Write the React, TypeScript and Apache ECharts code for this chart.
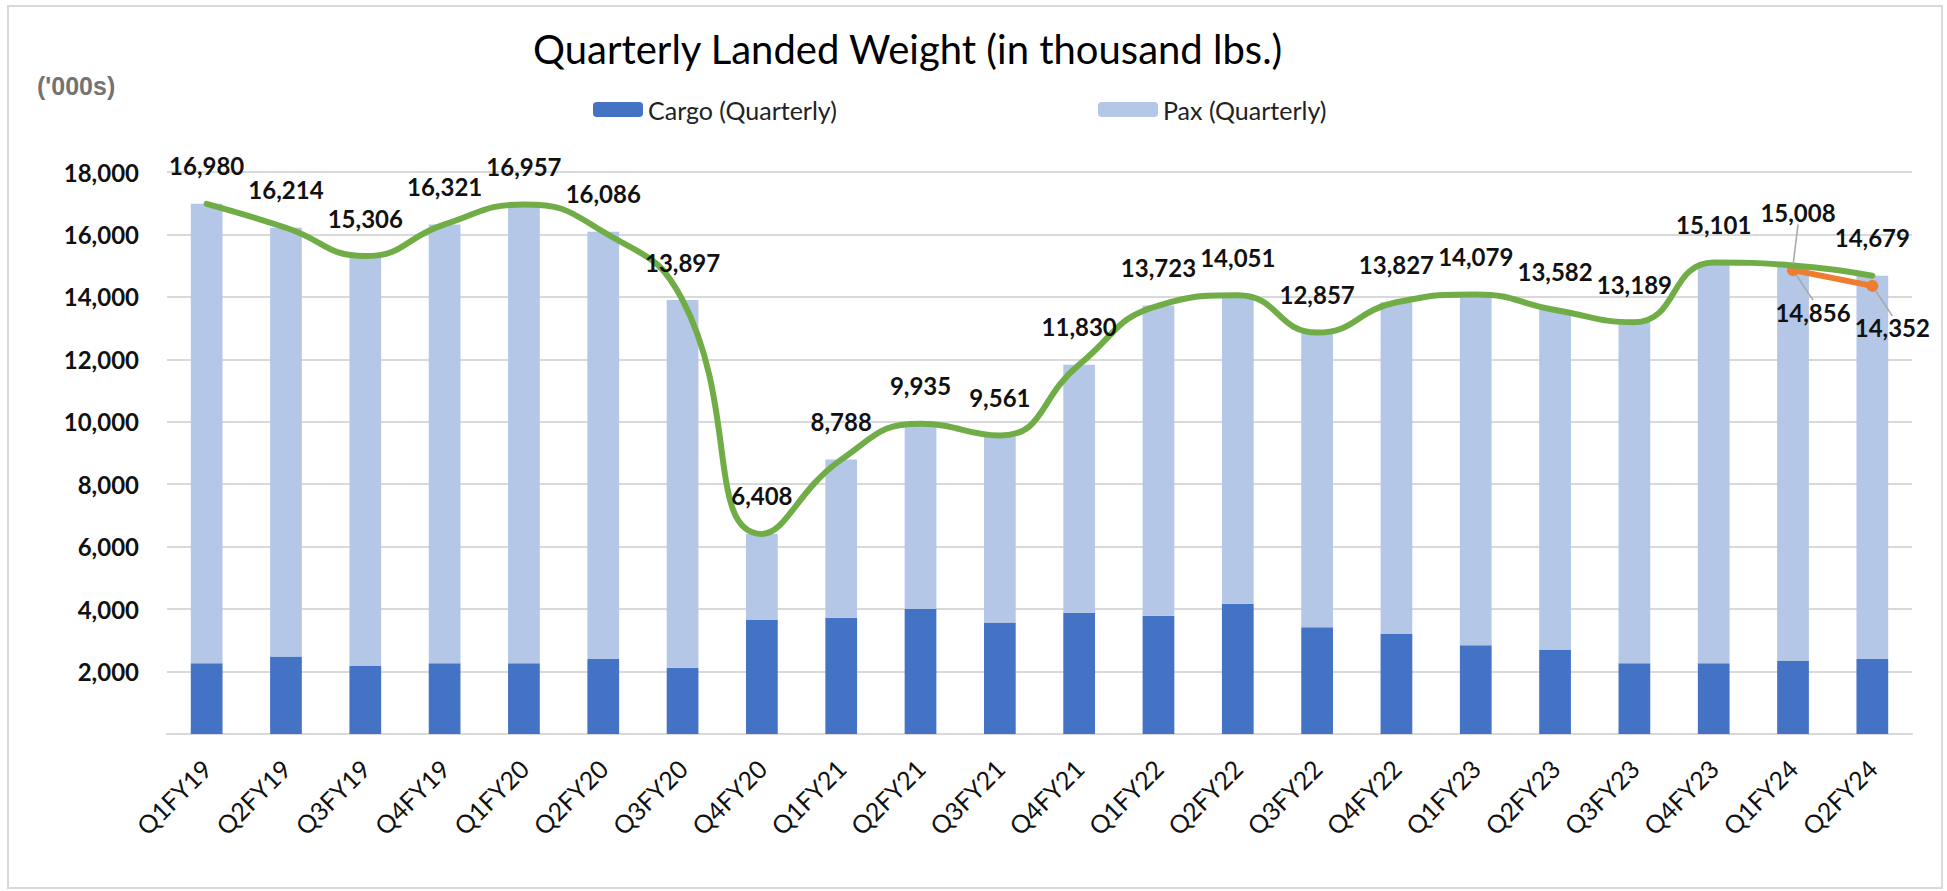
import React, { useEffect, useRef } from "react";
import * as echarts from "echarts";

const categories = [
  "Q1FY19", "Q2FY19", "Q3FY19", "Q4FY19", "Q1FY20", "Q2FY20", "Q3FY20", "Q4FY20",
  "Q1FY21", "Q2FY21", "Q3FY21", "Q4FY21", "Q1FY22", "Q2FY22", "Q3FY22", "Q4FY22",
  "Q1FY23", "Q2FY23", "Q3FY23", "Q4FY23", "Q1FY24", "Q2FY24",
];
const cargo = [
  2270, 2480, 2180, 2270, 2270, 2400, 2120, 3650, 3720, 4010, 3570, 3880, 3790, 4170,
  3420, 3200, 2840, 2690, 2270, 2270, 2340, 2400,
];
const pax = [
  14710, 13734, 13126, 14051, 14687, 13686, 11777, 2758, 5068, 5925, 5991, 7950, 9933,
  9881, 9437, 10627, 11239, 10892, 10919, 12831, 12668, 12279,
];
const totals = [
  16980, 16214, 15306, 16321, 16957, 16086, 13897, 6408, 8788, 9935, 9561, 11830, 13723,
  14051, 12857, 13827, 14079, 13582, 13189, 15101, 15008, 14679,
];
const projected = [
  null, null, null, null, null, null, null, null, null, null, null, null, null, null,
  null, null, null, null, null, null, 14856, 14352,
];
const yTicks = { min: 0, max: 18000, interval: 2000 };

const FONT = "Lato";
const fmt = (v: number) => v.toLocaleString("en-US");

export default function App() {
  const ref = useRef<HTMLDivElement>(null);
  useEffect(() => {
    if (!ref.current) return;
    const chart = echarts.init(ref.current, null, { renderer: "svg" });
    const option: any = {
      animation: false,
      backgroundColor: "#ffffff",
      title: {
        text: "Quarterly Landed Weight (in thousand lbs.)",
        left: 528,
        top: 24,
        textStyle: { fontFamily: FONT, fontSize: 40, fontWeight: "normal", color: "#000" },
      },
      legend: [
        {
          data: ["Cargo (Quarterly)"],
          left: 588,
          top: 92,
          itemWidth: 50,
          itemHeight: 15,
          itemGap: 10,
          textStyle: { fontFamily: FONT, fontSize: 25, color: "#222" },
        },
        {
          data: ["Pax (Quarterly)"],
          left: 1093,
          top: 92,
          itemWidth: 60,
          itemHeight: 15,
          textStyle: { fontFamily: FONT, fontSize: 25, color: "#222" },
        },
      ],
      graphic: [
        {
          type: "rect",
          shape: { x: 8, y: 6, width: 1934, height: 882 },
          style: { fill: "none", stroke: "#d9d9d9", lineWidth: 2 },
          silent: true,
        },
        {
          type: "text",
          x: 37,
          y: 73,
          style: {
            text: "('000s)",
            fontFamily: "Liberation Sans",
            fontWeight: "bold",
            fontSize: 25,
            fill: "#737373",
          },
        },
      ],
      grid: { left: 167, right: 35, top: 172, bottom: 157, containLabel: false },
      xAxis: {
        type: "category",
        data: categories,
        axisTick: { show: false },
        axisLine: { lineStyle: { color: "#d9d9d9", width: 2 } },
        axisLabel: {
          rotate: 45,
          margin: 30,
          fontFamily: FONT,
          fontSize: 25,
          color: "#111",
          interval: 0,
        },
      },
      yAxis: {
        type: "value",
        min: yTicks.min,
        max: yTicks.max,
        interval: yTicks.interval,
        axisLine: { show: false },
        axisTick: { show: false },
        splitLine: { lineStyle: { color: "#d9d9d9", width: 2 } },
        axisLabel: {
          fontFamily: FONT,
          fontWeight: "bold",
          fontSize: 24,
          color: "#111",
          margin: 28,
          formatter: (v: number) => (v === 0 ? "" : fmt(v)),
        },
      },
      series: [
        {
          name: "Cargo (Quarterly)",
          type: "bar",
          stack: "w",
          data: cargo,
          barCategoryGap: "60%",
          itemStyle: { color: "#4472C4" },
        },
        {
          name: "Pax (Quarterly)",
          type: "bar",
          stack: "w",
          data: pax,
          barCategoryGap: "60%",
          itemStyle: { color: "#B4C7E7" },
        },
        {
          name: "Projected",
          type: "line",
          data: projected,
          z: 4,
          symbol: "circle",
          symbolSize: 12,
          itemStyle: { color: "#ED7D31" },
          lineStyle: { color: "#ED7D31", width: 6 },
          label: {
            show: true,
            position: "bottom",
            distance: 24,
            fontFamily: FONT,
            fontWeight: "bold",
            fontSize: 24,
            color: "#111",
            formatter: (p: any) => fmt(p.value),
          },
          labelLayout: { dx: 20 },
          labelLine: { show: true, lineStyle: { color: "#a6a6a6", width: 1.5 } },
        },
        {
          name: "Total",
          type: "line",
          data: totals.map((v, i) =>
            i === 20 ? { value: v, labelLine: { show: true } } : v
          ),
          z: 5,
          smooth: 0.5,
          symbol: "circle",
          symbolSize: 2,
          itemStyle: { color: "#70AD47" },
          lineStyle: { color: "#70AD47", width: 6, cap: "round" },
          label: {
            show: true,
            position: "top",
            distance: 25,
            fontFamily: FONT,
            fontWeight: "bold",
            fontSize: 24,
            color: "#111",
            formatter: (p: any) => fmt(p.value),
          },
          labelLayout: (p: any) => (p.dataIndex === 20 ? { dx: 5, dy: -15 } : {}),
          labelLine: { show: false, lineStyle: { color: "#a6a6a6", width: 1.5 } },
        },
      ],
    };
    chart.setOption(option);
    return () => chart.dispose();
  }, []);
  return (
    <div
      ref={ref}
      style={{ position: "fixed", left: 0, top: 0, width: 1947, height: 891 }}
    />
  );
}
